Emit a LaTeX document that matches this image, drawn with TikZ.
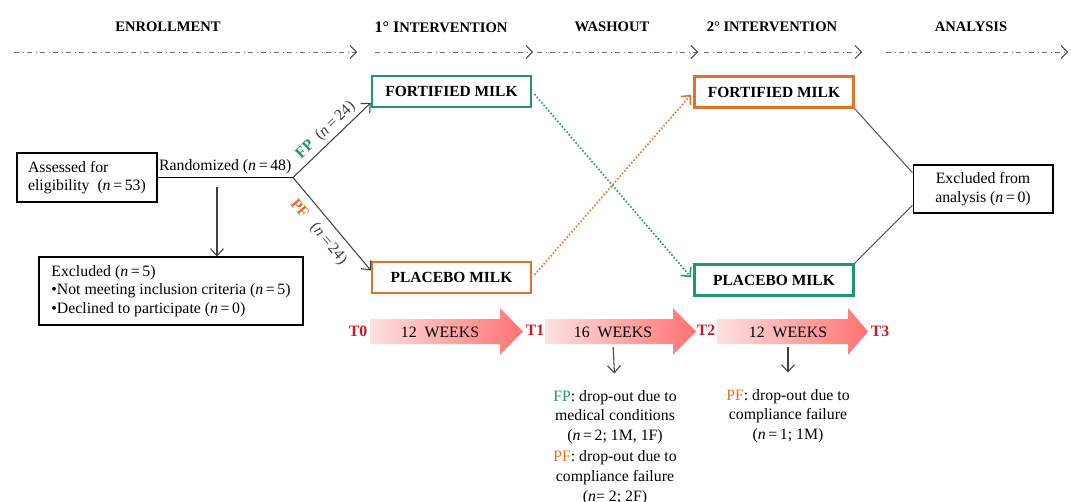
\documentclass[tikz,border=0pt]{standalone}
\usepackage{fontspec}
\setmainfont{Liberation Serif}
\usepackage{xcolor}
\usetikzlibrary{positioning, arrows.meta, calc}

\definecolor{fpgreen}{RGB}{30,150,110}
\definecolor{pforange}{RGB}{230,112,35}
\definecolor{tred}{RGB}{205,25,35}

\begin{document}
\begin{tikzpicture}[
  x=0.02cm, y=-0.02cm,
  font=\fontsize{9}{10.5}\selectfont,
  phasehead/.style={font=\fontsize{8.3}{10}\selectfont\bfseries},
  phase/.style={black!55, dash dot, line width=0.5pt,
    -{Straight Barb[length=1.3mm, width=2.6mm, black!80]}},
  box/.style={draw, line width=0.6pt, align=left},
  milk/.style={draw, line width=1.4pt, font=\fontsize{8.8}{10}\selectfont\bfseries,
    minimum width=3.18cm, minimum height=0.62cm},
  flow/.style={-{Straight Barb[length=1.4mm, width=2.6mm]}, line width=0.6pt, black!75},
  swap/.style={dash pattern=on 0.9pt off 1.1pt, line width=0.9pt,
    -{Straight Barb[length=1.4mm, width=2.6mm]}},
  link/.style={line width=0.6pt, black!65},
  weeks/.style={left color=red!12, right color=red!55},
  tlabel/.style={font=\fontsize{9}{10}\selectfont\bfseries, text=tred},
  note/.style={align=center, font=\fontsize{9}{11.2}\selectfont}
]
\useasboundingbox (0,0) rectangle (1071,501);

\node[phasehead] (hEnrol) at (168,27) {ENROLLMENT};
\node[phasehead] (hInt1) at (441,27) {{\fontsize{9.2}{10}\selectfont 1° I}NTERVENTION};
\node[phasehead] (hWash) at (612,27) {WASHOUT};
\node[phasehead] (hInt2) at (772,27) {2° INTERVENTION};
\node[phasehead] (hAnal) at (971,27) {ANALYSIS};

\foreach \xa/\xb [count=\i] in {14/357, 375/533, 537/698, 704/862, 886/1068}{
  \coordinate (ps\i) at (\xa,52);
  \coordinate (pe\i) at (\xb,52);
  \draw[phase] (ps\i) -- (pe\i);
}

\node[box, minimum width=2.8cm, minimum height=0.98cm] (assessed) at (87,177.5)
  {Assessed for\\eligibility\ \ (\textit{n}\,=\,53)};
\coordinate (split) at (293,177.5);
\draw[link, black] (assessed.east) -- node[above, inner sep=1.5pt] (rand)
  {Randomized (\textit{n}\,=\,48)} (split);

\node[box, minimum width=5.28cm, minimum height=1.36cm] (excl) at (171,291)
  {Excluded (\textit{n}\,=\,5)\\
   •Not meeting inclusion criteria (\textit{n}\,=\,5)\\
   •Declined to participate (\textit{n}\,=\,0)};
\coordinate (drop) at (217,187);
\draw[flow] (drop) -- (excl.north -| drop);

\node[milk, draw=fpgreen] (fort1) at (451.5,91.5) {FORTIFIED MILK};
\node[milk, draw=pforange] (plac1) at (451.5,277.5) {PLACEBO MILK};
\node[milk, draw=pforange] (fort2) at (774,92) {FORTIFIED MILK};
\node[milk, draw=fpgreen] (plac2) at (774,280) {PLACEBO MILK};

\draw[flow] (split) -- node[sloped, above, pos=0.52, inner sep=2pt] (fpn)
  {\textcolor{fpgreen}{\bfseries FP}\ \ (\textit{n}\,=\,24)} (fort1.188);
\draw[flow] (split) -- node[sloped, below, pos=0.48, inner sep=4.5pt] (pfn)
  {\textcolor{pforange}{\bfseries PF}\ \ \ (\textit{n}\,=\,24)} (plac1.175);

\draw[swap, fpgreen, shorten <=2pt, shorten >=2pt] (fort1.east) -- (plac2.west);
\draw[swap, pforange, shorten <=2pt, shorten >=2pt] (plac1.east) -- (fort2.west);

\node[box, align=center, minimum width=2.8cm, minimum height=0.96cm] (analysis) at (983,189)
  {Excluded from\\analysis (\textit{n}\,=\,0)};
\draw[link] (fort2.south east) -- (analysis.167);
\draw[link] (plac2.north east) -- (analysis.193);

\foreach \xa/\xb/\xc in {370/500/523, 545/673/696, 717/848/868}
  \path[weeks] (\xa,319) -- (\xb,319) -- (\xb,308) -- (\xc,331.5) -- (\xb,355)
    -- (\xb,344) -- (\xa,344) -- cycle;

\node (w1) at (440,332) {12\ \ WEEKS};
\node (w2) at (613,332) {16\ \ WEEKS};
\node (w3) at (788,332) {12\ \ WEEKS};
\node[tlabel] (t0) at (358,331) {T0};
\node[tlabel] (t1) at (535,330) {T1};
\node[tlabel] (t2) at (706,330) {T2};
\node[tlabel] (t3) at (880,331) {T3};

\node[note, anchor=north] (washnote) at (615,384)
  {\textcolor{fpgreen}{FP}: drop-out due to\\medical conditions\\
   (\textit{n}\,=\,2; 1M, 1F)\\[1pt]
   \textcolor{pforange}{PF}: drop-out due to\\compliance failure\\
   (\textit{n}=\ 2; 2F)};
\node[note, anchor=north] (secnote) at (788,383)
  {\textcolor{pforange}{PF}: drop-out due to\\compliance failure\\
   (\textit{n}\,=\,1; 1M)};
\draw[flow, shorten <=2pt, shorten >=6pt] (w2.south) -- (washnote.north);
\draw[flow, shorten <=2pt, shorten >=6pt] (w3.south) -- (secnote.north);
\end{tikzpicture}
\end{document}
